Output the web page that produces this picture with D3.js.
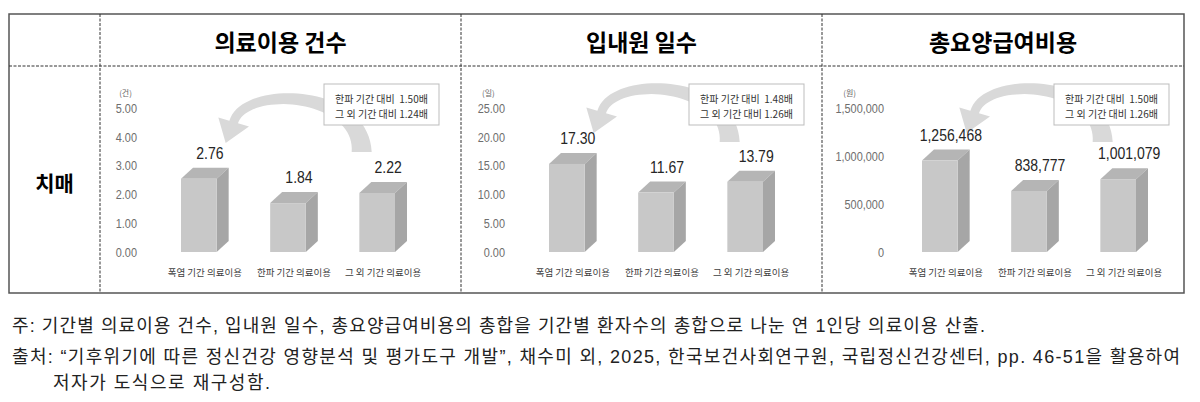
<!DOCTYPE html>
<html>
<head>
<meta charset="utf-8">
<script src="https://cdn.jsdelivr.net/npm/d3@7"></script>
<style>
  body { margin: 0; background: #fff; }
  text.pre { white-space: pre; }
</style>
</head>
<body>
<div id="chart"></div>
<script>
const categories = ["폭염 기간 의료이용", "한파 기간 의료이용", "그 외 기간 의료이용"];
const panelTitles = ["의료이용 건수", "입내원 일수", "총요양급여비용"];
const unitLabels = ["(건)", "(일)", "(원)"];
const rowLabel = "치매";

const visitCounts = [2.76, 1.84, 2.22];
const inpatientDays = [17.30, 11.67, 13.79];
const totalCosts = [1256468, 838777, 1001079];

const visitTicks = [0, 1, 2, 3, 4, 5];
const dayTicks = [0, 5, 10, 15, 20, 25];
const costTicks = [0, 500000, 1000000, 1500000];

const ratioNotes = [
  ["한파 기간 대비  1.50배", "그 외 기간 대비 1.24배"],
  ["한파 기간 대비  1.48배", "그 외 기간 대비 1.26배"],
  ["한파 기간 대비  1.50배", "그 외 기간 대비 1.26배"]
];

const footnotes = [
  "주: 기간별 의료이용 건수, 입내원 일수, 총요양급여비용의 총합을 기간별 환자수의 총합으로 나눈 연 1인당 의료이용 산출.",
  "출처: “기후위기에 따른 정신건강 영향분석 및 평가도구 개발”, 채수미 외, 2025, 한국보건사회연구원, 국립정신건강센터, pp. 46-51을 활용하여",
  "저자가 도식으로 재구성함."
];

const width = 1200;
const height = 402;

const KR = '"Noto Sans CJK KR", "Noto Sans", sans-serif';
const MIX = '"Liberation Sans", "Noto Sans CJK KR", sans-serif';
const NUM = '"Liberation Sans", Arial, sans-serif';

const svg = d3.select("#chart")
  .append("svg")
  .attr("width", width)
  .attr("height", height);

// table frame
const frame = { left: 9, right: 1184, top: 14, bottom: 293, head: 66 };
const colX = [100, 461, 822];

svg.append("rect")
  .attr("x", frame.left)
  .attr("y", frame.top)
  .attr("width", frame.right - frame.left)
  .attr("height", frame.bottom - frame.top)
  .attr("fill", "none")
  .attr("stroke", "#555")
  .attr("stroke-width", 1.5);

svg.append("line")
  .attr("x1", frame.left).attr("x2", frame.right)
  .attr("y1", frame.head).attr("y2", frame.head)
  .attr("stroke", "#333")
  .attr("stroke-dasharray", "3,1.5");

svg.selectAll("line.col")
  .data(colX)
  .enter()
  .append("line")
  .attr("class", "col")
  .attr("x1", d => d).attr("x2", d => d)
  .attr("y1", frame.top).attr("y2", frame.bottom)
  .attr("stroke", "#333")
  .attr("stroke-dasharray", "3,1.5");

svg.append("text")
  .attr("x", (frame.left + colX[0]) / 2)
  .attr("y", 182)
  .attr("text-anchor", "middle")
  .attr("dominant-baseline", "central")
  .style("font-family", KR)
  .style("font-size", "21px")
  .style("font-weight", 700)
  .text(rowLabel);

const panels = [
  { values: visitCounts, ticks: visitTicks, fmt: d3.format(".2f"),
    left: colX[0], right: colX[1], axisX: 137, plotX: 181, barMax: 5.42, tipY: 143, boxX: 324 },
  { values: inpatientDays, ticks: dayTicks, fmt: d3.format(".2f"),
    left: colX[1], right: colX[2], axisX: 505, plotX: 549, barMax: 28.3, tipY: 133, boxX: 689 },
  { values: totalCosts, ticks: costTicks, fmt: d3.format(","),
    left: colX[2], right: frame.right, axisX: 884, plotX: 922, barMax: 1980000, tipY: 133, boxX: 1054 }
];

const depth = { dx: 12, dy: 11 };
const baseY = 252;
const topY = 108;

function bezier(p, t) {
  const u = 1 - t;
  return [
    u * u * u * p[0][0] + 3 * u * u * t * p[1][0] + 3 * u * t * t * p[2][0] + t * t * t * p[3][0],
    u * u * u * p[0][1] + 3 * u * u * t * p[1][1] + 3 * u * t * t * p[2][1] + t * t * t * p[3][1]
  ];
}
function bezierTan(p, t) {
  const u = 1 - t;
  const dx = 3 * u * u * (p[1][0] - p[0][0]) + 6 * u * t * (p[2][0] - p[1][0]) + 3 * t * t * (p[3][0] - p[2][0]);
  const dy = 3 * u * u * (p[1][1] - p[0][1]) + 6 * u * t * (p[2][1] - p[1][1]) + 3 * t * t * (p[3][1] - p[2][1]);
  const l = Math.hypot(dx, dy);
  return [dx / l, dy / l];
}

// curved arrow from the "other" bar back to the heat-wave bar
function arrowPath(tx, ty) {
  const p = [[tx + 136, ty + 9], [tx + 136, ty - 53], [tx + 19, ty - 58], [tx + 8, ty - 21]];
  const left = [], right = [];
  const N = 40;
  for (let i = 0; i <= N; i++) {
    const t = i / N;
    const c = bezier(p, t);
    const d = bezierTan(p, t);
    const n = [-d[1], d[0]];
    const w = (9 + 11 * (1 - t) * (1 - t)) / 2;
    left.push([c[0] + n[0] * w, c[1] + n[1] * w]);
    right.push([c[0] - n[0] * w, c[1] - n[1] * w]);
  }
  const b = p[3];
  const d = bezierTan(p, 1);
  const n = [-d[1], d[0]];
  const hw = 16;
  const pts = left
    .concat([[b[0] + n[0] * hw, b[1] + n[1] * hw], [tx, ty], [b[0] - n[0] * hw, b[1] - n[1] * hw]])
    .concat(right.reverse());
  return d3.line()(pts) + "Z";
}

panels.forEach((cfg, pi) => {
  const g = svg.append("g");

  g.append("text")
    .attr("x", (cfg.left + cfg.right) / 2)
    .attr("y", 41)
    .attr("text-anchor", "middle")
    .attr("dominant-baseline", "central")
    .style("font-family", KR)
    .style("font-size", "23px")
    .style("font-weight", 700)
    .text(panelTitles[pi]);

  const y = d3.scaleLinear()
    .domain([0, d3.max(cfg.ticks)])
    .range([baseY + 0.5, topY]);

  const barY = d3.scaleLinear()
    .domain([0, cfg.barMax])
    .range([baseY, topY]);

  const x = d3.scaleBand()
    .domain(categories)
    .range([cfg.plotX, cfg.plotX + 214])
    .paddingInner(0.6)
    .paddingOuter(0);

  const axis = g.append("g")
    .attr("transform", `translate(${cfg.axisX},0)`)
    .call(d3.axisLeft(y).tickValues(cfg.ticks).tickSize(0).tickPadding(0).tickFormat(cfg.fmt));
  axis.select(".domain").remove();
  axis.selectAll("text")
    .attr("x", 0)
    .attr("transform", "scale(0.84,1)")
    .style("font-family", NUM)
    .style("font-size", "13px")
    .attr("fill", "#6e6e6e");

  const bb = axis.node().getBBox();
  g.append("text")
    .attr("x", cfg.axisX + bb.x * 0.84)
    .attr("y", 92)
    .attr("dominant-baseline", "central")
    .style("font-family", KR)
    .style("font-size", "8px")
    .attr("fill", "#666")
    .text(unitLabels[pi]);

  // arrow + ratio box
  const tipX = x(categories[0]) + x.bandwidth() + 9;
  g.append("path")
    .attr("d", arrowPath(tipX, cfg.tipY))
    .attr("fill", "#d9d9d9");

  g.append("rect")
    .attr("x", cfg.boxX)
    .attr("y", 84)
    .attr("width", 115)
    .attr("height", 41)
    .attr("fill", "#fff")
    .attr("stroke", "#bdbdbd");

  g.selectAll("text.note")
    .data(ratioNotes[pi])
    .enter()
    .append("text")
    .attr("class", "note pre")
    .attr("x", cfg.boxX + 57.5)
    .attr("y", (d, i) => 98 + i * 15.5)
    .attr("text-anchor", "middle")
    .attr("dominant-baseline", "central")
    .style("font-family", KR)
    .style("font-size", "10px")
    .attr("fill", "#333")
    .text(d => d);

  // 3D bars
  const bars = g.selectAll("g.bar")
    .data(cfg.values.map((v, i) => ({ cat: categories[i], value: v })))
    .enter()
    .append("g")
    .attr("class", "bar");

  const bw = x.bandwidth();
  bars.append("path")
    .attr("d", d => {
      const x0 = x(d.cat), t = barY(d.value);
      return `M${x0},${t} L${x0 + depth.dx},${t - depth.dy} L${x0 + bw + depth.dx},${t - depth.dy} L${x0 + bw},${t} Z`;
    })
    .attr("fill", "#b5b5b5");

  bars.append("path")
    .attr("d", d => {
      const x1 = x(d.cat) + bw, t = barY(d.value);
      return `M${x1},${t} L${x1 + depth.dx},${t - depth.dy} L${x1 + depth.dx},${baseY - depth.dy} L${x1},${baseY} Z`;
    })
    .attr("fill", "#a6a6a6");

  bars.append("rect")
    .attr("x", d => x(d.cat))
    .attr("y", d => barY(d.value))
    .attr("width", bw)
    .attr("height", d => baseY - barY(d.value))
    .attr("fill", "#c8c8c8");

  bars.append("text")
    .attr("transform", d => `translate(${x(d.cat) + bw / 2 + 11},${barY(d.value) - depth.dy - 9}) scale(0.85,1)`)
    .attr("text-anchor", "middle")
    .style("font-family", NUM)
    .style("font-size", "16.5px")
    .attr("fill", "#262626")
    .text(d => cfg.fmt(d.value));

  g.selectAll("text.cat")
    .data(categories)
    .enter()
    .append("text")
    .attr("class", "cat")
    .attr("x", d => x(d) + bw / 2 + 6)
    .attr("y", 272)
    .attr("text-anchor", "middle")
    .attr("dominant-baseline", "central")
    .style("font-family", KR)
    .style("font-size", "9.5px")
    .attr("fill", "#404040")
    .text(d => d);
});

// footnotes, stretched to the line lengths of the original
const footLayout = [
  { x: 12, y: 326, len: 973 },
  { x: 12, y: 357, len: 1168 },
  { x: 53, y: 383, len: 217 }
];
svg.selectAll("text.foot")
  .data(footnotes)
  .enter()
  .append("text")
  .attr("class", "foot")
  .attr("x", (d, i) => footLayout[i].x)
  .attr("y", (d, i) => footLayout[i].y)
  .attr("textLength", (d, i) => footLayout[i].len)
  .attr("lengthAdjust", "spacing")
  .attr("dominant-baseline", "central")
  .style("font-family", MIX)
  .style("font-size", "18px")
  .attr("fill", "#222")
  .text(d => d);
</script>
</body>
</html>
